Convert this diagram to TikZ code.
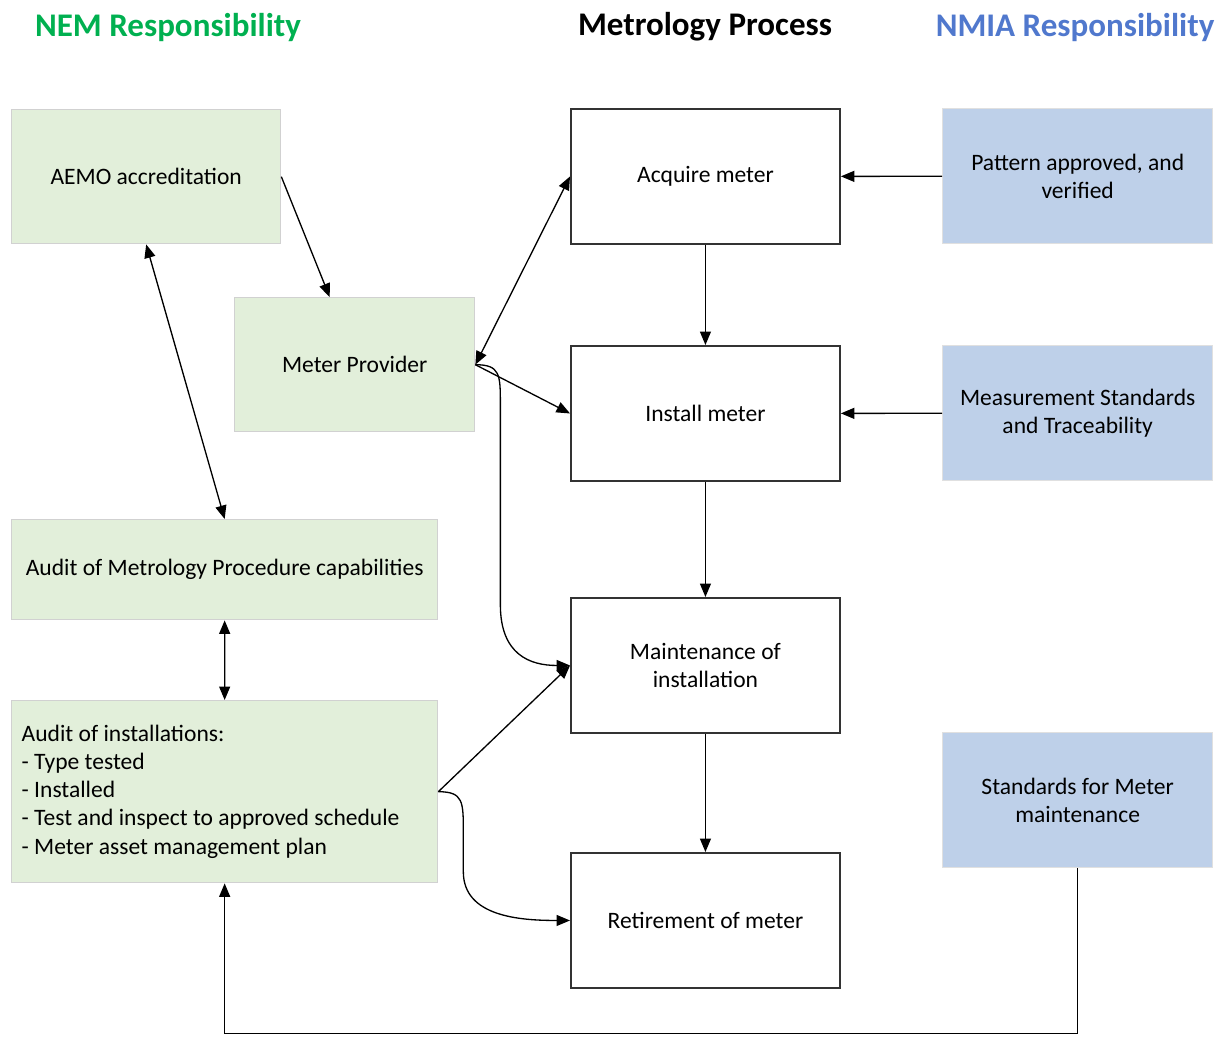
\documentclass[tikz,border=0pt]{standalone}
\usepackage{fontspec}
\setmainfont{Carlito}
\usetikzlibrary{positioning,arrows.meta,calc}
\definecolor{nemfill}{RGB}{226,239,218}
\definecolor{nmiafill}{RGB}{190,208,233}
\definecolor{nemhead}{RGB}{0,176,80}
\definecolor{nmiahead}{RGB}{80,120,205}

\begin{document}
\begin{tikzpicture}[
    x=0.02cm, y=-0.02cm,
    nem/.style={rectangle, draw=black!18, fill=nemfill, anchor=north west, align=center, font=\fontsize{13.4}{16}\selectfont, line width=0.8pt},
    proc/.style={rectangle, draw=black!80, fill=white, anchor=north west, align=center, font=\fontsize{13.4}{16}\selectfont, line width=1.1pt, minimum width=5.38cm, minimum height=2.7cm},
    nmia/.style={rectangle, draw=black!12, fill=nmiafill, anchor=north west, align=center, font=\fontsize{13.4}{16}\selectfont, line width=0.8pt, minimum width=5.4cm, minimum height=2.7cm},
    hdr/.style={font=\fontsize{18.8}{22}\selectfont\bfseries},
    arr/.style={-{Triangle[length=0.27cm,width=0.22cm]}, line width=0.75pt},
    arrb/.style={{Triangle[length=0.27cm,width=0.22cm]}-{Triangle[length=0.27cm,width=0.22cm]}, line width=0.75pt}
]
    \useasboundingbox (0,0) rectangle (1223,1036);

    % Headers
    \node[hdr, text=nemhead] (hnem) at (168,27) {NEM Responsibility};
    \node[hdr] (hproc) at (705,27) {Metrology Process};
    \node[hdr, text=nmiahead] (hnmia) at (1075,27) {NMIA Responsibility};

    % NEM side
    \node[nem, minimum width=5.38cm, minimum height=2.68cm] (aemo) at (11,109) {AEMO accreditation};
    \node[nem, minimum width=4.8cm, minimum height=2.68cm] (mp) at (234,297) {Meter Provider};
    \node[nem, minimum width=8.52cm, minimum height=2.0cm] (am) at (11,519) {Audit of Metrology Procedure capabilities};
    \node[nem, minimum height=3.64cm, text width=8.12cm, inner xsep=0.2cm, align=flush left] (ai) at (11,700)
        {Audit of installations:\\- Type tested\\- Installed\\- Test and inspect to approved schedule\\- Meter asset management plan};

    % Process
    \node[proc] (acq) at (570,108) {Acquire meter};
    \node[proc] (inst) at (570,345) {Install meter};
    \node[proc] (maint) at (570,597) {Maintenance of\\installation};
    \node[proc] (ret) at (570,852) {Retirement of meter};

    % NMIA side
    \node[nmia] (pat) at (942,108) {Pattern approved, and\\verified};
    \node[nmia] (meas) at (942,345) {Measurement Standards\\and Traceability};
    \node[nmia] (smm) at (942,732) {Standards for Meter\\maintenance};

    % Process flow
    \draw[arr] (acq) -- (inst);
    \draw[arr] (inst) -- (maint);
    \draw[arr] (maint) -- (ret);
    \draw[arr] (pat) -- (acq);
    \draw[arr] (meas) -- (inst);

    % NEM links
    \draw[arr] (aemo.east) -- ([xshift=-0.5cm]mp.north);
    \draw[arrb] (aemo.south) -- (am.north);
    \draw[arrb] (am.south) -- (ai.north);
    \draw[arrb] (mp.east) -- (acq.west);
    \draw[arr] (mp.east) -- (inst.west);
    \draw[arr] (mp.east) .. controls +(25,0) and +(0,-30) .. ++(25,40) -- ++(0,200) .. controls +(0,50) and +(-40,0) .. (maint.west);
    \draw[arr] (ai.east) -- (maint.west);
    \draw[arr] (ai.east) .. controls +(25,0) and +(0,-30) .. ++(25,40) -- ++(0,40) .. controls +(0,45) and +(-50,0) .. (ret.west);
    \draw[arr] (smm.south) -- ++(0,165) -| (ai.south);
\end{tikzpicture}
\end{document}
